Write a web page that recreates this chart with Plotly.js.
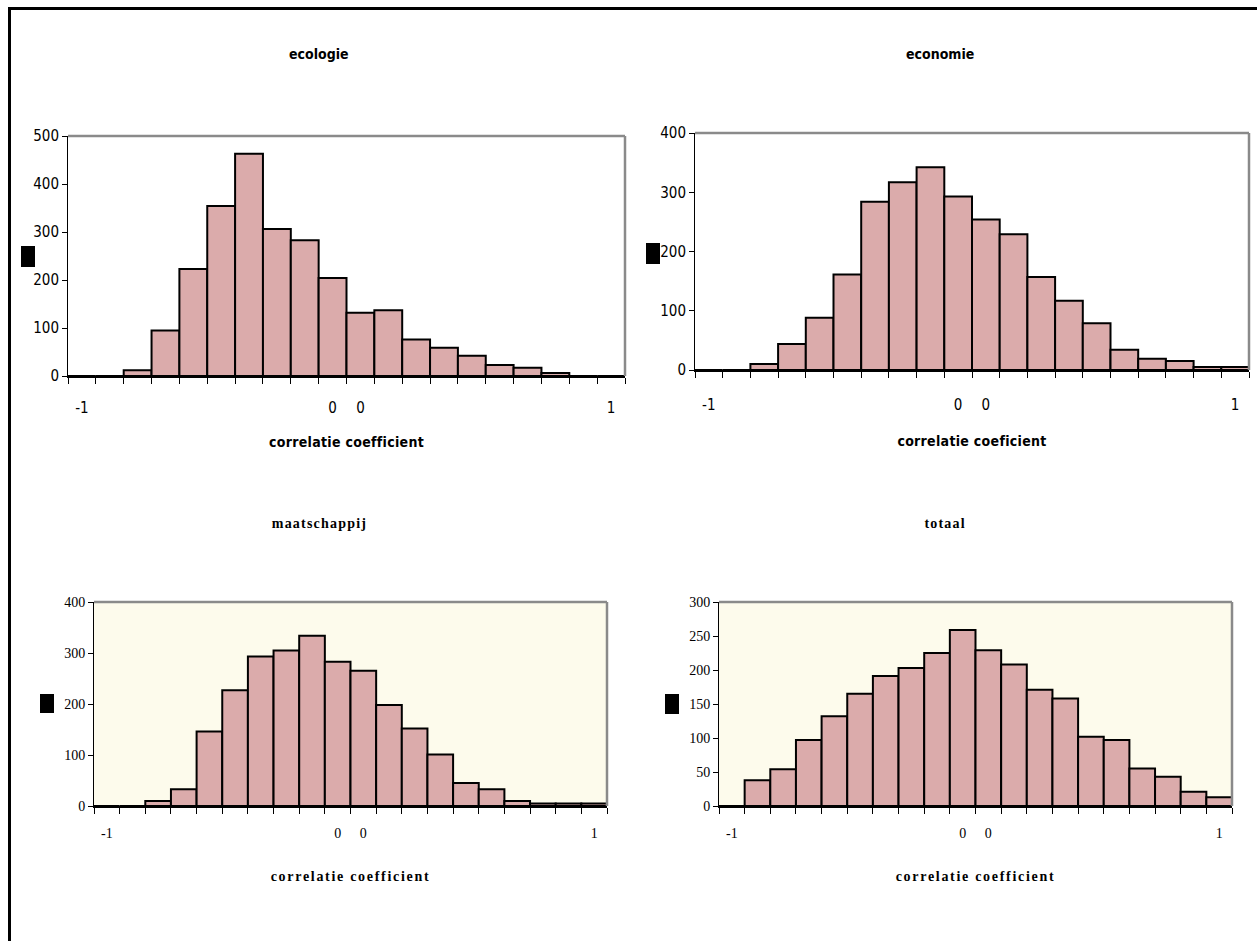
<!DOCTYPE html>
<html>
<head>
<meta charset="utf-8">
<script src="https://cdn.plot.ly/plotly-3.0.1.min.js"></script>
<style>
html, body { margin: 0; padding: 0; background: #ffffff; }
#chart { width: 1257px; height: 941px; }
.js-plotly-plot text.annotation-text[style*="Serif"] { letter-spacing: 1.2px; }
.js-plotly-plot .xtitle, .js-plotly-plot .x2title { letter-spacing: 0.3px; }
.js-plotly-plot .x3title, .js-plotly-plot .x4title { letter-spacing: 1.7px; }
</style>
</head>
<body>
<div id="chart"></div>
<script>
// ---- data ----
const binCenters = [-0.95, -0.85, -0.75, -0.65, -0.55, -0.45, -0.35, -0.25, -0.15, -0.05,
                    0.05, 0.15, 0.25, 0.35, 0.45, 0.55, 0.65, 0.75, 0.85, 0.95];
const binEdges = [-1, -0.9, -0.8, -0.7, -0.6, -0.5, -0.4, -0.3, -0.2, -0.1, 0,
                  0.1, 0.2, 0.3, 0.4, 0.5, 0.6, 0.7, 0.8, 0.9, 1];
const xTickVals = [-0.95, -0.05, 0.05, 0.95];
const xTickText = ['-1', '0', '0', '1'];

const ecologie     = [0, 0, 12, 95, 223, 354, 463, 306, 283, 204, 132, 137, 76, 59, 42, 23, 17, 6, 0, 0];
const economie     = [0, 0, 10, 44, 88, 161, 284, 317, 342, 293, 254, 229, 157, 117, 79, 34, 19, 15, 5, 5];
const maatschappij = [0, 0, 10, 33, 146, 227, 293, 305, 334, 283, 265, 198, 152, 101, 45, 33, 10, 5, 5, 5];
const totaal       = [0, 38, 54, 97, 132, 165, 191, 203, 225, 259, 229, 208, 171, 158, 102, 97, 55, 43, 21, 13];

const panelTitles = ['ecologie', 'economie', 'maatschappij', 'totaal'];
const axisTitles = ['correlatie coefficient', 'correlatie coeficient', 'correlatie coefficient', 'correlatie coefficient'];
const yMax = [500, 400, 400, 300];
const yStep = [100, 100, 100, 50];

// ---- layout helpers ----
const W = 1257, H = 941;
const px = x => x / W;
const py = y => 1 - y / H;

const SANS = "'Liberation Sans Narrow', 'DejaVu Sans Condensed', 'Arial Narrow', 'DejaVu Sans', sans-serif";
const SERIF = "'Liberation Serif', 'Times New Roman', serif";

const panels = [
  { data: ecologie,     x0: 68,  x1: 625,  y0: 136, y1: 376, font: SANS,  titleX: 319, titleY: 54,  box: [21, 246, 35, 267], bg: '#ffffff', lblStand: 17, ttlStand: 21 },
  { data: economie,     x0: 695, x1: 1249, y0: 133, y1: 370, font: SANS,  titleX: 940, titleY: 54,  box: [646, 243, 660, 264], bg: '#ffffff', lblStand: 20, ttlStand: 23 },
  { data: maatschappij, x0: 94,  x1: 607,  y0: 602, y1: 806, font: SERIF, titleX: 319, titleY: 523, box: [40, 694, 54, 713], bg: '#fdfbec', lblStand: 13, ttlStand: 31 },
  { data: totaal,       x0: 719, x1: 1232, y0: 602, y1: 806, font: SERIF, titleX: 945, titleY: 523, box: [665, 694, 679, 714], bg: '#fdfbec', lblStand: 13, ttlStand: 31 }
];

const traces = [];
const layout = {
  width: W, height: H,
  margin: { l: 0, r: 0, t: 0, b: 0, pad: 0 },
  paper_bgcolor: '#ffffff',
  plot_bgcolor: 'rgba(0,0,0,0)',
  showlegend: false,
  bargap: 0,
  shapes: [],
  annotations: []
};

panels.forEach((p, i) => {
  const n = i === 0 ? '' : String(i + 1);
  const xa = 'x' + n, ya = 'y' + n;
  const isSerif = p.font === SERIF;
  traces.push({
    type: 'bar',
    x: binCenters,
    y: p.data,
    width: 0.1,
    xaxis: xa, yaxis: ya,
    marker: { color: '#dbabab', line: { color: '#000000', width: 2 } },
    hoverinfo: 'skip'
  });
  layout['xaxis' + n] = {
    domain: [px(p.x0), px(p.x1)],
    anchor: ya,
    range: [-1, 1],
    fixedrange: true,
    tickmode: 'array',
    tickvals: xTickVals,
    ticktext: xTickText,
    ticks: '',
    ticklabelstandoff: p.lblStand,
    showline: true, linecolor: '#000000', linewidth: 2,
    showgrid: false, zeroline: false,
    minor: { tickmode: 'array', tickvals: binEdges, ticks: 'outside', ticklen: 6, tickwidth: 1, tickcolor: '#000000', showgrid: false },
    tickfont: { family: p.font, size: isSerif ? 14 : 15, color: '#000000' },
    title: { text: axisTitles[i], standoff: p.ttlStand,
             font: { family: p.font, size: 14, color: '#000000', weight: 'bold' } }
  };
  layout['yaxis' + n] = {
    domain: [py(p.y1), py(p.y0)],
    anchor: xa,
    range: [0, yMax[i]],
    fixedrange: true,
    tick0: 0, dtick: yStep[i],
    ticks: 'outside', ticklen: 5, tickwidth: 1, tickcolor: '#000000',
    showline: true, linecolor: '#000000', linewidth: 1,
    showgrid: false, zeroline: false,
    tickfont: { family: p.font, size: isSerif ? 14 : 15, color: '#000000' }
  };
  // plot area background (bottom panels are light yellow)
  layout.shapes.push({
    type: 'rect', xref: xa + ' domain', yref: ya + ' domain',
    x0: 0, x1: 1, y0: 0, y1: 1,
    fillcolor: p.bg, line: { width: 0 }, layer: 'below'
  });
  // grey frame on top and right
  layout.shapes.push({
    type: 'line', xref: xa + ' domain', yref: ya + ' domain',
    x0: 0, x1: 1, y0: 1, y1: 1, line: { color: '#8a8a8a', width: 2.5 }
  });
  layout.shapes.push({
    type: 'line', xref: xa + ' domain', yref: ya + ' domain',
    x0: 1, x1: 1, y0: 0, y1: 1, line: { color: '#8a8a8a', width: 2.5 }
  });
  // black placeholder box where the y-axis title glyph sits
  layout.shapes.push({
    type: 'rect', xref: 'paper', yref: 'paper',
    x0: px(p.box[0]), x1: px(p.box[2]), y0: py(p.box[3]), y1: py(p.box[1]),
    fillcolor: '#000000', line: { width: 0 }
  });
  // panel title
  layout.annotations.push({
    xref: 'paper', yref: 'paper', x: px(p.titleX), y: py(p.titleY),
    xanchor: 'center', yanchor: 'middle', showarrow: false,
    text: panelTitles[i],
    font: { family: p.font, size: 14, color: '#000000', weight: 'bold' }
  });
});

// outer frame (left and top edges visible)
layout.shapes.push({ type: 'line', xref: 'paper', yref: 'paper', x0: px(9.5), x1: px(9.5), y0: py(7), y1: py(945), line: { color: '#000000', width: 3 } });
layout.shapes.push({ type: 'line', xref: 'paper', yref: 'paper', x0: px(8), x1: px(1260), y0: py(8.5), y1: py(8.5), line: { color: '#000000', width: 3 } });

Plotly.newPlot('chart', traces, layout, { staticPlot: true, displayModeBar: false });
</script>
</body>
</html>
